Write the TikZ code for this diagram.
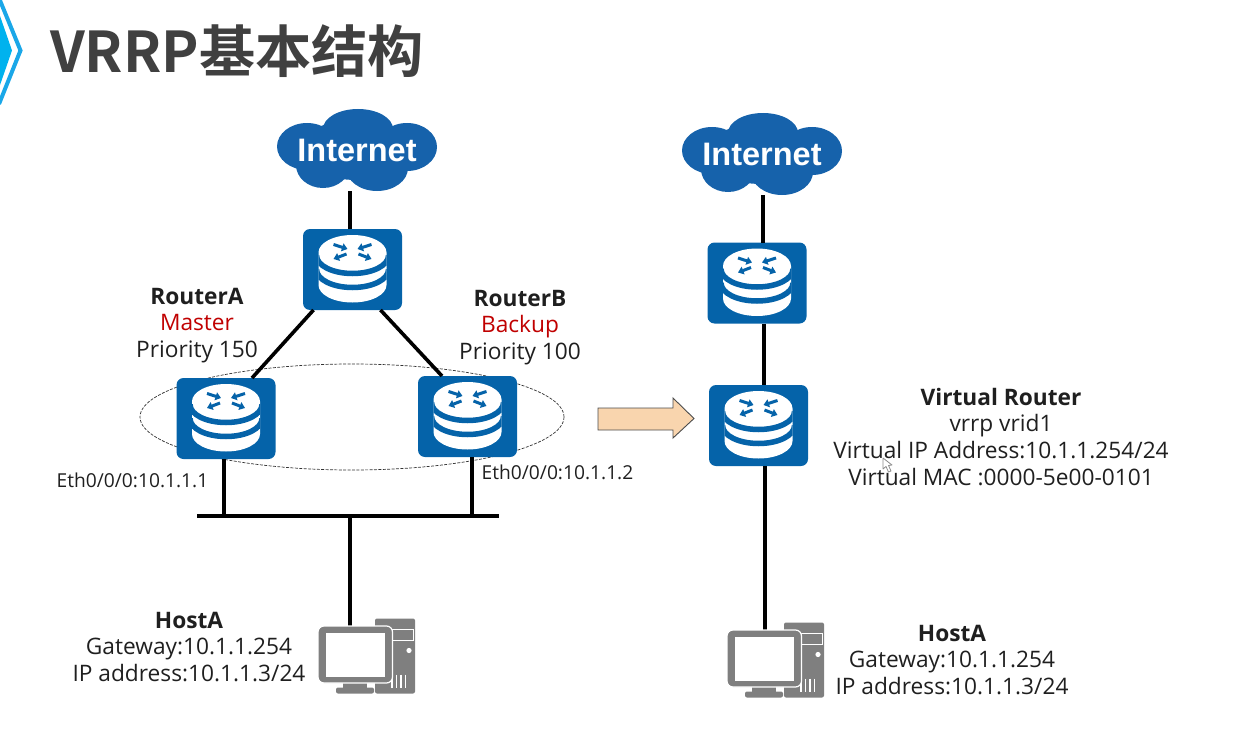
\documentclass[tikz,border=0pt]{standalone}
\usepackage{fontspec}
\setmainfont{Open Sans}
\newfontfamily\cjktitle{Noto Sans CJK SC Bold}
\newfontfamily\cloudfont{Liberation Sans}
\usetikzlibrary{calc,arrows.meta,shapes.geometric}
\definecolor{routerblue}{HTML}{0563A9}
\definecolor{cloudblue}{HTML}{1662AB}
\definecolor{hostgray}{HTML}{7F7F7F}
\definecolor{titlegray}{HTML}{404040}
\definecolor{masterred}{HTML}{C00000}
\definecolor{chevblue}{HTML}{1AA7E8}
\definecolor{chevfill}{HTML}{00B2EE}
\definecolor{arrowfill}{HTML}{F9D5AE}
\tikzset{
  link/.style={line width=3.6pt, black},
  routerbox/.style={fill=routerblue, rounded corners=7pt, minimum width=99pt, minimum height=81pt, inner sep=0pt, outer sep=0pt},
  cloudbox/.style={minimum width=160pt, minimum height=81pt, inner sep=0pt, outer sep=0pt, text=white, font=\cloudfont\bfseries\fontsize{32.5}{33}\selectfont},
  txt/.style={anchor=base, font=\fontsize{22.7}{26}\selectfont, inner sep=0pt, text=black!88},
  boldtxt/.style={txt, font=\fontsize{22.7}{26}\selectfont\bfseries},
  smalltxt/.style={txt, font=\fontsize{19.2}{22}\selectfont},
  hostbox/.style={minimum width=74pt, minimum height=57pt, inner sep=0pt, outer sep=0pt},
  busbar/.style={fill=black, minimum width=302pt, minimum height=4pt, inner sep=0pt, outer sep=0pt},
  vrrpgroup/.style={ellipse, draw=black!80, line width=0.7pt, dash pattern=on 3pt off 1.4pt, minimum width=424pt, minimum height=106pt, inner sep=0pt},
  swaparrow/.style={-{Triangle[width=8pt,length=5.5pt]}, routerblue, line width=3pt},
  % storage-drum router symbol, centred on its box
  pics/routericon/.style={code={
    \begin{scope}
      \path[clip] (-34,-17) .. controls (-34,-26.7) and (-18.8,-34.5) .. (0,-34.5)
        .. controls (18.8,-34.5) and (34,-26.7) .. (34,-17) -- (34,15.5)
        .. controls (34,25.2) and (18.8,33) .. (0,33)
        .. controls (-18.8,33) and (-34,25.2) .. (-34,15.5) -- cycle;
      \fill[white] (-40,-40) rectangle (40,40);
      \draw[routerblue, line width=5.5pt] (-36,-14) .. controls (-36,-4) and (-20,4) .. (0,4)
        .. controls (20,4) and (36,-4) .. (36,-14);
      \draw[routerblue, line width=5.5pt] (-36,0) .. controls (-36,10) and (-20,18) .. (0,18)
        .. controls (20,18) and (36,10) .. (36,0);
    \end{scope}
    \draw[swaparrow] (-19,-25) -- (-5,-20.5);
    \draw[swaparrow] (19,-25) -- (5,-20.5);
    \draw[swaparrow] (-6,-15.5) -- (-19,-10.5);
    \draw[swaparrow] (6,-15.5) -- (19,-10.5);
  }},
  % cloud outline built from overlapping lobes
  pics/cloudshape/.style={code={
    \fill[cloudblue] (1,-21) ellipse[x radius=35pt, y radius=20pt];
    \fill[cloudblue] (-50,-3.5) ellipse[x radius=30pt, y radius=23.5pt];
    \fill[cloudblue] (50,-3) ellipse[x radius=30pt, y radius=24pt];
    \fill[cloudblue] (-34,15) ellipse[x radius=27pt, y radius=23pt];
    \fill[cloudblue] (20,18) ellipse[x radius=31pt, y radius=23pt];
    \fill[cloudblue] (0,0) ellipse[x radius=60pt, y radius=30pt];
  }},
  % desktop computer, origin at the centre of the monitor
  pics/hosticon/.style={code={
    \fill[hostgray, rounded corners=2pt] (20,-36) rectangle (60,39);
    \draw[white, line width=0.9pt] (37,-25) rectangle (58,-14);
    \fill[white] (54,-4) circle[radius=2.6pt];
    \foreach \vx in {37,41.5,46,50.5} {\draw[white, line width=1.1pt] (\vx,20) -- (\vx,33);}
    \fill[hostgray] (-12,27) rectangle (12,33);
    \fill[hostgray, rounded corners=2pt] (-19,33) rectangle (19,39);
    \draw[white, line width=1.2pt, fill=hostgray, rounded corners=6pt] (-37,-28.5) rectangle (37.5,28.5);
    \fill[white] (-29,-21.5) rectangle (30,22.5);
  }},
}
\begin{document}
\begin{tikzpicture}[x=1pt, y=-1pt]
\useasboundingbox (0,0) rectangle (1260,733);

% section marker at the page edge
\begin{scope}
  \clip (0,0) rectangle (40,110);
  \draw[chevblue, line width=4pt, line join=miter] (-1,-2) -- (20.5,50.5) -- (-1,104);
  \fill[chevfill] (-1,13) -- (12,50.5) -- (-1,88) -- cycle;
\end{scope}
\node[anchor=west, inner sep=0pt, text=titlegray, font=\cjktitle\fontsize{56.2}{56}\selectfont] (title) at (50,51) {VRRP基本结构};

% left topology
\node[vrrpgroup] (group) at (352,417) {};
\pic at (357,150) {cloudshape};
\node[cloudbox] (netL) at (357,150) {Internet};
\node[routerbox] (rt) at (352.5,269.5) {};
\node[routerbox] (ra) at (226,418.5) {};
\node[routerbox] (rb) at (467.5,416.5) {};
\node[busbar] (bus) at (348,516) {};
\node[hostbox] (hostL) at (355,654.5) {};

\draw[link] ($(rt.north)+(-2.5,0)$) coordinate (u1) -- (u1 |- netL.south);
\draw[link] ($(rt.south)+(-39,0)$) -- ($(ra.north)+(26,0)$);
\draw[link] ($(rt.south)+(28,0)$) -- ($(rb.north)+(-25.5,0)$);
\draw[link] ($(ra.south)+(-2,0)$) coordinate (a1) -- (a1 |- bus.north);
\draw[link] ($(rb.south)+(4.5,0)$) coordinate (b1) -- (b1 |- bus.north);
\draw[link] (350,516) coordinate (d1) -- (d1 |- hostL.north);

\pic at (rt) {routericon};
\pic at (ra) {routericon};
\pic at (rb) {routericon};
\pic at (hostL) {hosticon};

\node[boldtxt] (ralabel) at (197,304) {RouterA};
\node[txt, text=masterred] (rarole) at (197,330.5) {Master};
\node[txt] (raprio) at (197,357) {Priority 150};
\node[boldtxt] (rblabel) at (520,306) {RouterB};
\node[txt, text=masterred] (rbrole) at (520,332.5) {Backup};
\node[txt] (rbprio) at (520,359) {Priority 100};
\node[smalltxt] (ethA) at (132.5,487) {Eth0/0/0:10.1.1.1};
\node[smalltxt] (ethB) at (557.5,479) {Eth0/0/0:10.1.1.2};
\node[boldtxt] (hostLname) at (189,628) {HostA};
\node[txt] (hostLgw) at (189,654) {Gateway:10.1.1.254};
\node[txt] (hostLip) at (189,681) {IP address:10.1.1.3/24};

% transition arrow
\draw[fill=arrowfill, draw=black!70, line width=0.9pt, line join=miter]
  (598,408) -- (673,408) -- (673,398) -- (694,418.5) -- (673,438) -- (673,430) -- (598,430) -- cycle;

% right topology
\pic at (762,154) {cloudshape};
\node[cloudbox] (netR) at (762,154) {Internet};
\node[routerbox] (rv1) at (757,283) {};
\node[routerbox] (rv2) at (758.5,425.5) {};
\node[hostbox] (hostR) at (764,658.5) {};

\draw[link] ($(rv1.north)+(6,0)$) coordinate (u2) -- (u2 |- netR.south);
\draw[link] ($(rv1.south)+(7,0)$) coordinate (m2) -- (m2 |- rv2.north);
\draw[link] ($(rv2.south)+(6.5,0)$) coordinate (l2) -- (l2 |- hostR.north);

\pic at (rv1) {routericon};
\pic at (rv2) {routericon};
\pic at (hostR) {hosticon};

\node[boldtxt] (vrname) at (1001,405) {Virtual Router};
\node[txt] (vrid) at (1001,431) {vrrp vrid1};
\node[txt] (vrip) at (1001,458) {Virtual IP Address:10.1.1.254/24};
\node[txt] (vrmac) at (1001,485) {Virtual MAC :0000-5e00-0101};
\node[boldtxt] (hostRname) at (952,641) {HostA};
\node[txt] (hostRgw) at (952,667) {Gateway:10.1.1.254};
\node[txt] (hostRip) at (952,694) {IP address:10.1.1.3/24};

% pointer resting over the address line
\draw[black!45, line width=0.8pt, line join=round]
  (883,458) -- (883,469) -- (886,466.5) -- (888.5,472) -- (891,471) -- (888.5,465.5) -- (892,465) -- cycle;
\end{tikzpicture}
\end{document}
